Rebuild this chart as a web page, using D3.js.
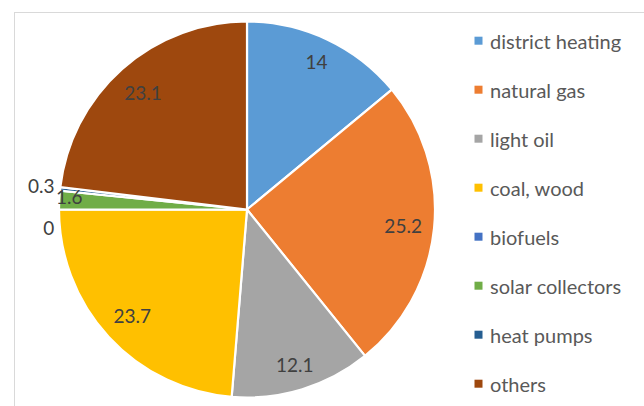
<!DOCTYPE html>
<html><head><meta charset="utf-8">
<script src="https://cdn.jsdelivr.net/npm/d3@7"></script>
<style>html,body{margin:0;padding:0;background:#fff;overflow:hidden}</style>
</head><body>
<svg id="c" width="644" height="406"></svg>
<script>
const categories = ["district heating","natural gas","light oil","coal, wood","biofuels","solar collectors","heat pumps","others"];
const values = [14, 25.2, 12.1, 23.7, 0, 1.6, 0.3, 23.1];
const colors = ["#5B9BD5","#ED7D31","#A5A5A5","#FFC000","#4472C4","#70AD47","#255E91","#9E480E"];
const labelText = ["14","25.2","12.1","23.7","0","1.6","0.3","23.1"];

const svg = d3.select("#c");
const cx = 247, cy = 209.5, R = 188;
const font = "Lato, 'Open Sans', sans-serif";

// chart frame
svg.append("rect").attr("x",14.5).attr("y",12.5).attr("width",700).attr("height",500)
  .attr("fill","none").attr("stroke","#d9d9d9").attr("stroke-width",1);

const data = categories.map((c,i)=>({cat:c, value:values[i], label:labelText[i], color:colors[i], idx:i}));
const pie = d3.pie().value(d=>d.value).sort(null);
const arcs = pie(data);
const arc = d3.arc().innerRadius(0).outerRadius(R);

const g = svg.append("g").attr("transform",`translate(${cx},${cy})`);
g.selectAll("path.slice").data(arcs).enter().append("path")
  .attr("class","slice")
  .attr("d",arc)
  .attr("fill",d=>d.data.color)
  .attr("stroke","#fff").attr("stroke-width",2.2).attr("stroke-linejoin","round");

// labels
const smallNudge = {4:[-10.3,18.2],5:[9.9,-3.3],6:[-18.9,-3.2]};
const R0 = 178.7, boxH = 22;
const lab = g.selectAll("text.lbl").data(arcs).enter().append("text")
  .attr("class","lbl")
  .attr("font-family",font).attr("font-size",19).attr("fill","#404040")
  .attr("text-anchor","middle").attr("dominant-baseline","central")
  .text(d=>d.data.label);
lab.each(function(d){
  const a = (d.startAngle+d.endAngle)/2;
  const ux = Math.sin(a), uy = -Math.cos(a);
  let x, y;
  if (smallNudge[d.data.idx]) {
    const n = smallNudge[d.data.idx];
    x = R*ux + n[0]; y = R*uy + n[1];
  } else {
    const w = this.getComputedTextLength()+4;
    const dist = R0 - (w/2*Math.abs(ux) + boxH/2*Math.abs(uy));
    x = dist*ux; y = dist*uy;
  }
  d3.select(this).attr("x",x).attr("y",y);
});

// legend
const ly = d3.scalePoint().domain(categories).range([40.7,383.7]);
const leg = svg.append("g");
const li = leg.selectAll("g").data(data).enter().append("g")
  .attr("transform",d=>`translate(474.5,${ly(d.cat)})`);
li.append("rect").attr("x",0).attr("y",-4).attr("width",8).attr("height",8).attr("fill",d=>d.color);
li.append("text").attr("x",15.5).attr("y",0).attr("dominant-baseline","central")
  .attr("font-family",font).attr("font-size",20).attr("fill","#595959")
  .text(d=>d.cat);
</script>
</body></html>
